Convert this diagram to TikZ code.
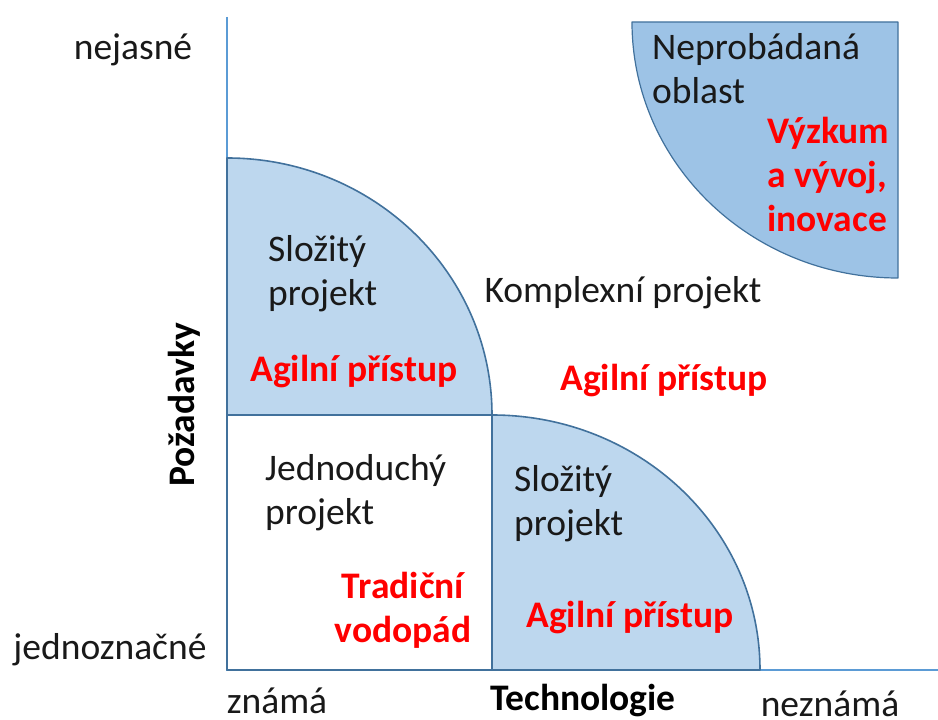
\documentclass[tikz,border=0pt]{standalone}
\usepackage{fontspec}
\setmainfont{Carlito}
\definecolor{axisblue}{HTML}{5B9BD5}
\definecolor{edgeblue}{HTML}{41719C}
\definecolor{lightfill}{HTML}{BDD7EE}
\definecolor{darkfill}{HTML}{9DC3E6}
\definecolor{hotred}{HTML}{FF0000}
\begin{document}
\begin{tikzpicture}[x=1pt,y=1pt,
  region/.style={draw=edgeblue,line width=1.6pt,line join=round},
  axisline/.style={draw=axisblue,line width=1.6pt},
  lbl/.style={inner sep=0pt,font=\fontsize{37.5}{44}\selectfont,text=black!90},
  hot/.style={inner sep=0pt,font=\fontsize{37.5}{44}\selectfont\bfseries,text=hotred},
  axlbl/.style={inner sep=0pt,font=\fontsize{37.5}{44}\selectfont\bfseries,text=black}]
\useasboundingbox (0,0) rectangle (938,720);

% axes
\coordinate (origin) at (227,50);
\coordinate (ytop) at (227,703);
\coordinate (xend) at (938,50);
\draw[axisline] (ytop) -- (origin) -- (xend);

% simple project square
\draw[region,fill=white] (227,50) rectangle (492,305);
% complicated project, requirements side
\draw[region,fill=lightfill] (227,305) -- (227,562)
  arc[start angle=90,end angle=0,x radius=265,y radius=257] -- cycle;
% complicated project, technology side
\draw[region,fill=lightfill] (492,50) -- (492,305)
  arc[start angle=90,end angle=0,x radius=268,y radius=255] -- cycle;
% unexplored area
\draw[region,fill=darkfill,line width=1.2pt] (898,698) -- (632,698)
  arc[start angle=180,end angle=270,x radius=266,y radius=256] -- cycle;

% axis labels
\node[lbl] (nejasne) at (133,670) {nejasné};
\node[lbl] (jednoznacne) at (110,70) {jednoznačné};
\node[lbl] (znama) at (277,19) {známá};
\node[axlbl] (tech) at (583,19) {Technologie};
\node[lbl] (neznama) at (830,16) {neznámá};
\node[axlbl,rotate=90] (pozadavky) at (184,315) {Požadavky};

% region texts
\node[lbl,anchor=west,align=left] (slozityA) at (268,446) {Složitý\\projekt};
\node[hot] (agilA) at (354,348) {Agilní přístup};
\node[lbl] (komplex) at (623,427) {Komplexní projekt};
\node[hot] (agilB) at (664,339) {Agilní přístup};
\node[lbl,anchor=west,align=left] (jednoduchy) at (265,227) {Jednoduchý\\projekt};
\node[hot,align=center] (tradicni) at (403,110) {Tradiční\\vodopád};
\node[lbl,anchor=west,align=left] (slozityB) at (514,216) {Složitý\\projekt};
\node[hot] (agilC) at (630,102) {Agilní přístup};
\node[lbl,anchor=west,align=left] (neprobadana) at (652,651) {Neprobádaná\\oblast};
\node[hot,anchor=west,align=left] (vyzkum) at (767,546) {Výzkum\\a vývoj,\\inovace};
\end{tikzpicture}
\end{document}
